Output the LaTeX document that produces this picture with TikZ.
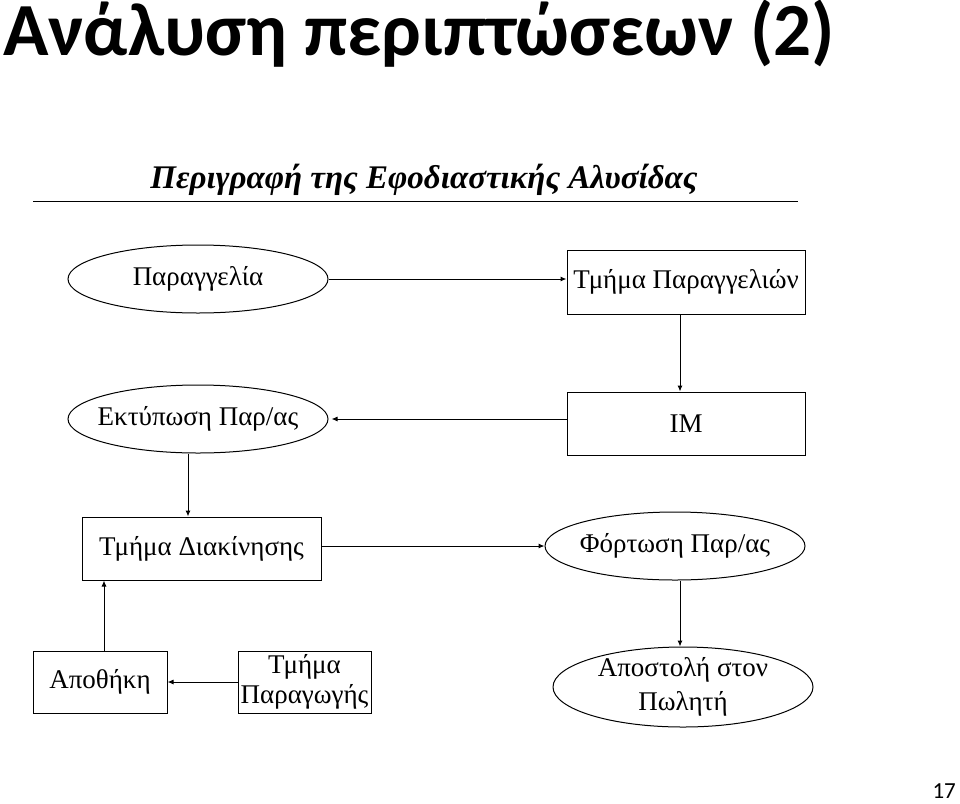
\documentclass[tikz,border=0pt]{standalone}
\usepackage{fontspec}
\setmainfont{Liberation Serif}
\newfontfamily\slidefont{Carlito}
\newfontfamily\chartfont{Liberation Serif}
\usepackage{xcolor}
\definecolor{darkgray}{HTML}{333333}
\usetikzlibrary{positioning,shapes.geometric,arrows.meta}

\begin{document}
\begin{tikzpicture}[x=1pt, y=-1pt, node distance = 7mm,
	terminal/.style={
					rectangle, minimum width = 238pt, minimum height = 63pt, inner sep = 0pt,
					draw = black, line width = 1pt, fill = white, align = center,
					font = \chartfont\fontsize{27}{30}\selectfont},
	oval/.style={
					ellipse, minimum width = 260pt, minimum height = 68pt, inner xsep = -60pt, inner ysep = -20pt,
					draw = black, line width = 1pt, fill = white, align = center,
					font = \chartfont\fontsize{27}{34}\selectfont},
	arr/.style={-{Latex[length=6pt, width=5pt]}, line width = 1pt}]
		\useasboundingbox (0,0) rectangle (960,803);
		% heading of the slide
		\node (T) [anchor=base west, font=\slidefont\bfseries\fontsize{75}{75}\selectfont, inner sep=0pt] at (3,55) {Ανάλυση περιπτώσεων (2)};
		\node (N) [anchor=base east, font=\slidefont\fontsize{23}{23}\selectfont, inner sep=0pt] at (956,798) {17};
		% heading of the chart
		\node (H) [anchor=base, font=\chartfont\bfseries\itshape\fontsize{33}{34}\selectfont, inner sep=0pt] at (424,188) {Περιγραφή της Εφοδιαστικής Αλυσίδας};
		\coordinate (HL) at (33,201);
		\coordinate (HR) at (798,201);
		\draw[line width=1pt] (HL) -- (HR);
		% nodes
		\node (A) [oval] at (198,279) {Παραγγελία};
		\node (B) [terminal, minimum height=64pt] at (686,282) {Τμήμα Παραγγελιών};
		\node (C) [terminal, below=77pt of B.south, anchor=north] {ΙΜ};
		\node (D) [oval] at (198,419) {Εκτύπωση Παρ/ας};
		\node (E) [terminal, minimum width=239pt] at (201.5,548.5) {Τμήμα Διακίνησης};
		\node (F) [oval] at (675,546) {Φόρτωση Παρ/ας};
		\node (G) [oval, minimum height=80pt] at (683,687) {Αποστολή στον\\Πωλητή};
		\node (K) [terminal, minimum width=134pt, minimum height=62pt] at (100,682) {Αποθήκη};
		\node (L) [terminal, minimum width=133pt, minimum height=62pt, right=70pt of K.east, anchor=west] {Τμήμα\\Παραγωγής};
		% connectors
		\draw[arr] (A.east) -- (A.east -| B.west);
		\draw[arr] ([xshift=-6pt]B.south) -- ([xshift=-6pt]C.north);
		\draw[arr] (C.west |- D.east) -- ([xshift=3pt]D.east);
		\draw[arr] ([xshift=-10pt]D.south) -- ([xshift=-13.5pt]E.north);
		\draw[arr] ([yshift=2.5pt]E.east) -- ([yshift=2.5pt]E.east -| F.west);
		\draw[arr] ([xshift=5pt]F.south) -- ([xshift=-3pt]G.north);
		\draw[arr] (L.west) -- (K.east);
		\draw[arr] ([xshift=4pt]K.north) -- ([xshift=-97.5pt]E.south);
	\end{tikzpicture}
\end{document}
